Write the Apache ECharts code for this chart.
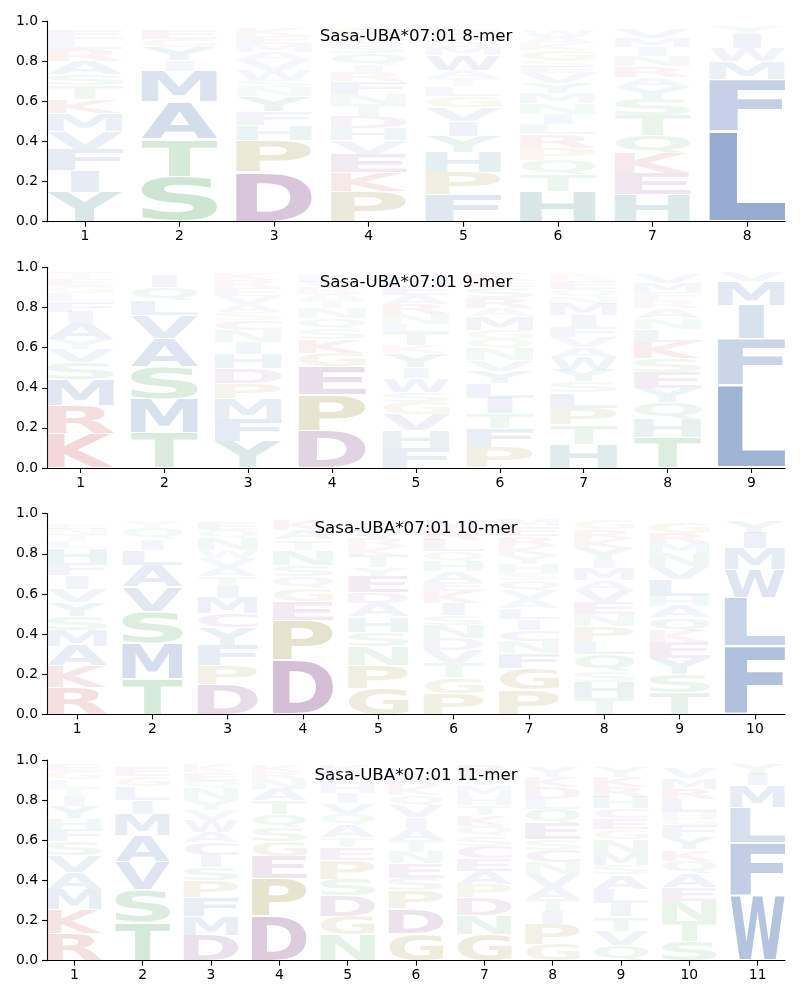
<!DOCTYPE html>
<html><head><meta charset="utf-8">
<script src="https://cdn.jsdelivr.net/npm/echarts@6/dist/echarts.min.js"></script>
<style>html,body{margin:0;padding:0;background:#fff}#c{width:800px;height:1000px}</style>
</head><body><div id="c"></div>
<script>
// ---------------- DATA (letters bottom -> top, heights = probability) ----------------
const titles = ["Sasa-UBA*07:01 8-mer", "Sasa-UBA*07:01 9-mer", "Sasa-UBA*07:01 10-mer", "Sasa-UBA*07:01 11-mer"];

const mer8_letters = ["YIFVMKTSARLE", "STAMIYGE", "DPHFYNSWVAMEK", "PKEVHDTNFRIQSAG", "FPHYIVGLTAWMSE", "HTQPRLINMYVESGKAW", "HEKQTSYARNIMV", "LFMWIY"];
const mer8_heights = [
  [.146,.108,.108,.09,.086,.07,.07,.058,.066,.058,.05,.045],
  [.225,.186,.186,.154,.052,.066,.04,.045],
  [.245,.16,.075,.068,.075,.046,.036,.05,.05,.04,.04,.04,.04],
  [.151,.096,.091,.066,.063,.06,.058,.05,.063,.046,.036,.058,.042,.042,.041],
  [.134,.114,.1,.08,.071,.07,.058,.046,.04,.04,.075,.042,.042,.041],
  [.151,.083,.071,.063,.066,.05,.05,.055,.05,.05,.05,.033,.033,.05,.033,.033,.033],
  [.134,.106,.1,.09,.1,.08,.061,.05,.055,.05,.045,.044,.044],
  [.454,.257,.086,.066,.071,.04]
];

const mer9_letters = ["KRMSVYAIFLGET", "TMSAVLQI", "YFMPDHINCSAVERK", "DPEGKSQNTARVL", "FHVGSWIYKTLNRAEM", "PFTILYVNQGMARSEK", "HTPLSYWAVFIMNQERK", "THQYESKLNARFMV", "LFIMV"];
const mer9_heights = [
  [.17,.141,.131,.085,.065,.05,.078,.058,.055,.04,.035,.033,.03],
  [.178,.166,.161,.141,.116,.076,.063,.058],
  [.133,.111,.1,.076,.075,.073,.06,.058,.05,.04,.04,.04,.04,.04,.035],
  [.186,.18,.138,.07,.066,.055,.05,.05,.04,.033,.03,.03,.03],
  [.1,.088,.078,.06,.05,.07,.055,.07,.04,.066,.04,.05,.05,.045,.045,.045],
  [.103,.093,.075,.078,.071,.063,.055,.058,.046,.046,.066,.04,.05,.058,.033,.033],
  [.12,.096,.083,.076,.055,.058,.066,.046,.05,.053,.058,.058,.033,.04,.04,.02,.02],
  [.153,.091,.083,.071,.078,.071,.08,.063,.055,.05,.04,.04,.045,.045],
  [.414,.229,.166,.12,.046]
];

const mer10_letters = ["RKAMSYVIFHLTNE", "TMSVALIQY", "DPFYCMITAVWNQE", "DPEGQSNTAK", "GPNSHADEYTKRVQ", "PGTVDNSIKEAHQLRM", "PGFNCILAVQSHYKREM", "THSQLPNEVAMIYKRG", "TSYEKQAHLVNMRG", "FLWMIY"];
const mer10_heights = [
  [.133,.108,.1,.078,.07,.07,.066,.066,.063,.075,.033,.033,.03,.028],
  [.18,.178,.153,.123,.108,.075,.055,.055,.033],
  [.147,.098,.1,.086,.07,.078,.061,.05,.045,.045,.04,.058,.042,.041],
  [.27,.2,.091,.066,.06,.058,.075,.05,.05,.05],
  [.13,.115,.095,.071,.075,.066,.055,.083,.041,.058,.045,.045,.045,.04],
  [.105,.078,.073,.066,.058,.066,.05,.058,.058,.046,.053,.05,.05,.058,.05,.05],
  [.121,.108,.075,.058,.058,.053,.055,.045,.045,.05,.033,.045,.046,.048,.048,.048,.035],
  [.08,.081,.055,.083,.066,.075,.058,.063,.058,.05,.058,.041,.058,.047,.047,.046],
  [.11,.091,.078,.078,.058,.066,.058,.05,.083,.066,.066,.05,.05,.058],
  [.34,.24,.141,.105,.078,.061]
];

const mer11_letters = ["RKMAVSFHYITLGE", "TSVAMILGE", "DMFPSICAWVYNQEK", "DPEGSQTANRK", "NGDSPETAQVIHLK", "GDPSENTAIVQKRL", "GNDPAECSQKTHMVR", "GPITAVNCSEQLDKY", "QVTILASMNGECHRKY", "STNEAQKYFGHLRMV", "WFLMIY"];
const mer11_heights = [
  [.136,.12,.1,.083,.083,.071,.063,.053,.063,.05,.04,.04,.04,.035],
  [.194,.158,.141,.13,.108,.07,.066,.05,.045],
  [.128,.095,.093,.083,.066,.06,.063,.053,.058,.05,.05,.058,.04,.04,.04],
  [.219,.189,.111,.075,.071,.066,.066,.058,.05,.036,.035],
  [.128,.095,.1,.083,.095,.063,.05,.061,.055,.053,.05,.047,.047,.046],
  [.136,.123,.091,.063,.071,.058,.058,.061,.055,.058,.05,.045,.045,.045],
  [.131,.095,.088,.066,.066,.063,.063,.05,.05,.055,.05,.045,.05,.05,.05],
  [.081,.1,.066,.058,.061,.066,.058,.06,.053,.08,.071,.05,.058,.05,.05],
  [.078,.071,.071,.066,.071,.071,.046,.063,.066,.05,.055,.05,.058,.05,.05,.05],
  [.098,.1,.1,.066,.071,.063,.055,.063,.058,.033,.033,.066,.05,.055,.055],
  [.323,.265,.174,.11,.058,.05]
];

const yTicks = [0, 0.2, 0.4, 0.6, 0.8, 1.0];

// ---------------- STYLE ----------------
const groupColors = {
  hydrophobic: [76, 114, 176],
  aromaticPolar: [60, 130, 130],
  polar: [85, 168, 104],
  special: [155, 145, 60],
  acidic: [135, 75, 138],
  basic: [196, 78, 82]
};
const letterGroup = {
  A:'hydrophobic', V:'hydrophobic', L:'hydrophobic', I:'hydrophobic', M:'hydrophobic', F:'hydrophobic', W:'hydrophobic',
  H:'aromaticPolar', Y:'aromaticPolar',
  S:'polar', T:'polar', N:'polar', Q:'polar',
  G:'special', P:'special',
  D:'acidic', E:'acidic', C:'acidic',
  K:'basic', R:'basic'
};
const ALPHA_SCALE = 1.3;
const VPAD = 0.04;
const LETTER_WIDTH = 0.8;
const GLYPH_FONT = 'bold 100px "DejaVu Sans"';

const ctx = document.createElement('canvas').getContext('2d');
ctx.font = GLYPH_FONT;
ctx.textBaseline = 'middle';
ctx.textAlign = 'left';
const metricCache = {};
function metrics(c) {
  if (!metricCache[c]) {
    const m = ctx.measureText(c);
    metricCache[c] = {
      l: m.actualBoundingBoxLeft, r: m.actualBoundingBoxRight,
      a: m.actualBoundingBoxAscent, d: m.actualBoundingBoxDescent,
      w: m.actualBoundingBoxLeft + m.actualBoundingBoxRight,
      h: m.actualBoundingBoxAscent + m.actualBoundingBoxDescent
    };
  }
  return metricCache[c];
}
const refW = Math.min(metrics('E').w, metrics('F').w, metrics('L').w);

const panels = [
  {letters: mer8_letters, heights: mer8_heights},
  {letters: mer9_letters, heights: mer9_heights},
  {letters: mer10_letters, heights: mer10_heights},
  {letters: mer11_letters, heights: mer11_heights}
];

const PANEL_TOP = 21, PANEL_STEP = 246.33, PANEL_H = 200.7;

const grid = [], xAxis = [], yAxis = [], series = [], graphic = [];
panels.forEach((pn, i) => {
  const n = pn.letters.length;
  const positions = [];
  for (let k = 1; k <= n; k++) positions.push(k);
  grid.push({left: 47, right: 15, top: PANEL_TOP + i * PANEL_STEP, height: PANEL_H, containLabel: false});
  xAxis.push({
    type: 'value', gridIndex: i, min: 0.6, max: n + 0.4,
    axisLine: {show: true, onZero: false, lineStyle: {color: '#000', width: 1.1}},
    axisTick: {show: true, customValues: positions, length: 5, lineStyle: {color: '#000', width: 1.1}},
    axisLabel: {show: true, customValues: positions, color: '#000', fontSize: 13.9, fontFamily: 'DejaVu Sans', margin: 8,
      formatter: v => String(Math.round(v))},
    splitLine: {show: false}
  });
  yAxis.push({
    type: 'value', gridIndex: i, min: 0, max: 1, interval: 0.2,
    axisLine: {show: true, onZero: false, lineStyle: {color: '#000', width: 1.1}},
    axisTick: {show: true, length: 5, lineStyle: {color: '#000', width: 1.1}},
    axisLabel: {show: true, color: '#000', fontSize: 13.9, fontFamily: 'DejaVu Sans', margin: 9,
      formatter: v => v.toFixed(1)},
    splitLine: {show: false}
  });
  const data = [], glyphs = [];
  pn.letters.forEach((str, p) => {
    let floor = 0;
    str.split('').forEach((c, j) => {
      const h = pn.heights[p][j];
      data.push([p + 1, floor, floor + h]);
      glyphs.push(c);
      floor += h;
    });
  });
  series.push({
    type: 'custom', xAxisIndex: i, yAxisIndex: i, silent: true, animation: false,
    data: data,
    renderItem: (params, api) => {
      const c = glyphs[params.dataIndex];
      const x = api.value(0), y0 = api.value(1), y1 = api.value(2);
      const pBL = api.coord([x - LETTER_WIDTH / 2, y0]);
      const pTR = api.coord([x + LETTER_WIDTH / 2, y1]);
      const W = pTR[0] - pBL[0];
      const Hfull = pBL[1] - pTR[1];
      const top = pTR[1] + Hfull * VPAD / 2;
      const H = Hfull * (1 - VPAD);
      const m = metrics(c);
      const sx = Math.min(W / m.w, W / refW);
      const sy = H / m.h;
      const gx0 = pBL[0] + (W - m.w * sx) / 2;
      const col = groupColors[letterGroup[c]];
      const alpha = Math.min(1, ALPHA_SCALE * (y1 - y0));
      return {
        type: 'text',
        x: gx0 + m.l * sx,
        y: top + m.a * sy,
        scaleX: sx, scaleY: sy,
        style: {
          text: c, x: 0, y: 0, font: GLYPH_FONT,
          align: 'left', verticalAlign: 'middle',
          textAlign: 'left', textVerticalAlign: 'middle',
          fill: 'rgba(' + col[0] + ',' + col[1] + ',' + col[2] + ',' + alpha.toFixed(3) + ')'
        }
      };
    }
  });
  graphic.push({
    type: 'text', x: 416, y: PANEL_TOP + i * PANEL_STEP + 15.5,
    style: {text: titles[i], font: '16.7px "DejaVu Sans"', fill: '#000',
      align: 'center', verticalAlign: 'middle', textAlign: 'center', textVerticalAlign: 'middle'}
  });
});

const chart = echarts.init(document.getElementById('c'), null, {renderer: 'canvas'});
chart.setOption({backgroundColor: '#fff', animation: false, grid, xAxis, yAxis, series, graphic});
</script>
</body></html>
